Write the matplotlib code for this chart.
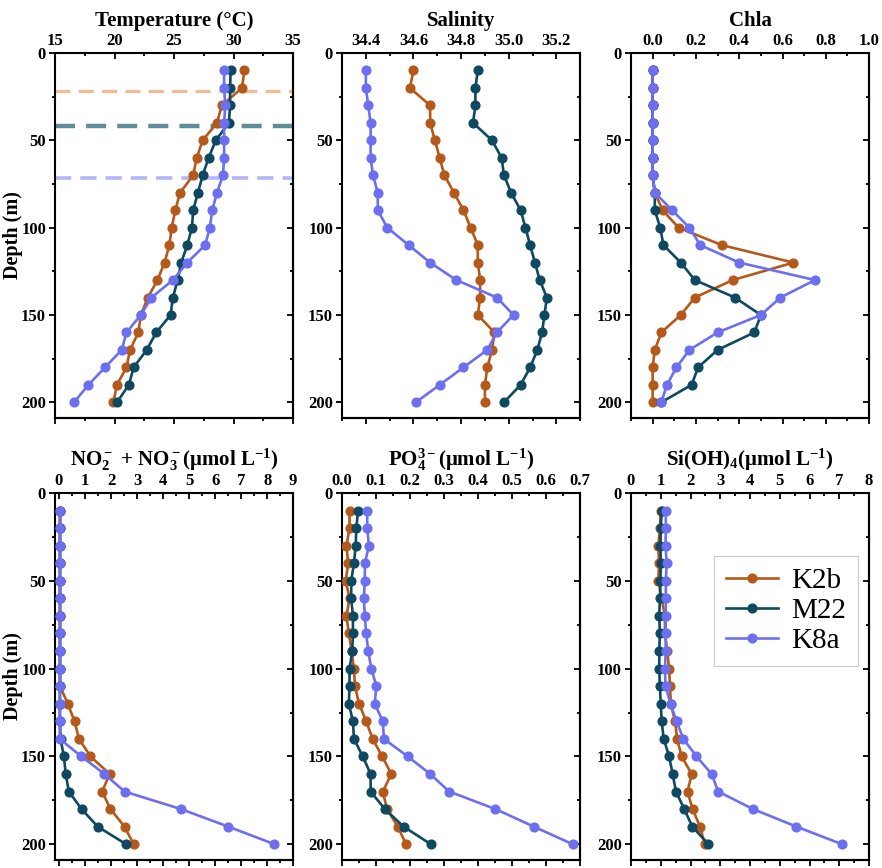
import matplotlib
matplotlib.use('Agg')
import matplotlib.pyplot as plt
from matplotlib.ticker import MultipleLocator

plt.rcParams['font.family'] = ['Liberation Serif', 'DejaVu Serif']
plt.rcParams['font.weight'] = 'bold'
plt.rcParams['mathtext.fontset'] = 'custom'
plt.rcParams['mathtext.rm'] = 'Liberation Serif:bold'
plt.rcParams['mathtext.bf'] = 'Liberation Serif:bold'
plt.rcParams['mathtext.it'] = 'Liberation Serif:bold'
plt.rcParams['mathtext.default'] = 'bf'

# data
stations = ['K2b', 'M22', 'K8a']
colors = ['#B5591B', '#0E4961', '#6B6FF0']
mld_colors = ['#ECBE98', '#5F8C99', '#B4B6F7']
depth = [10, 20, 30, 40, 50, 60, 70, 80, 90, 100,
         110, 120, 130, 140, 150, 160, 170, 180, 190, 200]
mld = [21.5, 42, 71.5]

temp_k2b = [30.9, 30.7, 29.0, 28.6, 27.4, 26.9, 26.6, 25.5, 25.1, 24.8,
            24.6, 24.2, 23.6, 22.8, 22.2, 22.0, 21.3, 21.0, 20.2, 19.9]
temp_m22 = [29.75, 29.7, 29.7, 29.6, 28.5, 27.9, 27.4, 27.0, 26.6, 26.5,
            26.1, 25.6, 25.3, 24.9, 24.7, 23.5, 22.7, 21.6, 21.2, 20.2]
temp_k8a = [29.2, 29.2, 29.3, 29.2, 29.2, 29.2, 29.1, 28.6, 28.2, 28.0,
            27.6, 26.1, 24.9, 23.1, 22.2, 21.0, 20.6, 19.2, 17.8, 16.6]

sal_k2b = [34.60, 34.585, 34.67, 34.67, 34.69, 34.71, 34.73, 34.77, 34.81, 34.84,
           34.87, 34.87, 34.88, 34.88, 34.87, 34.94, 34.93, 34.91, 34.90, 34.90]
sal_m22 = [34.87, 34.86, 34.86, 34.85, 34.93, 34.97, 34.98, 35.01, 35.05, 35.07,
           35.09, 35.11, 35.13, 35.16, 35.15, 35.14, 35.12, 35.09, 35.05, 34.98]
sal_k8a = [34.40, 34.40, 34.41, 34.42, 34.42, 34.42, 34.43, 34.45, 34.45, 34.49,
           34.58, 34.67, 34.78, 34.95, 35.02, 34.95, 34.91, 34.81, 34.71, 34.61]

chla_k2b = [0.0, 0.0, 0.0, 0.0, 0.0, 0.0, 0.0, 0.01, 0.046, 0.12,
            0.32, 0.65, 0.37, 0.195, 0.13, 0.04, 0.01, 0.0, 0.0, 0.0]
chla_m22 = [0.0, 0.0, 0.0, 0.0, 0.0, 0.0, 0.0, 0.01, 0.01, 0.035,
            0.05, 0.13, 0.195, 0.38, 0.50, 0.47, 0.30, 0.21, 0.18, 0.04]
chla_k8a = [0.0, 0.0, 0.0, 0.0, 0.0, 0.0, 0.0, 0.01, 0.09, 0.17,
            0.22, 0.40, 0.75, 0.59, 0.50, 0.30, 0.17, 0.11, 0.066, 0.04]

no3_k2b = [0.04, 0.04, 0.04, 0.04, 0.04, 0.04, 0.04, 0.04, 0.04, 0.04,
           0.04, 0.34, 0.60, 0.77, 1.21, 1.95, 1.66, 1.98, 2.52, 2.87]
no3_m22 = [0.04, 0.04, 0.04, 0.04, 0.04, 0.04, 0.04, 0.04, 0.04, 0.04,
           0.04, 0.04, 0.04, 0.06, 0.19, 0.26, 0.38, 0.87, 1.49, 2.58]
no3_k8a = [0.05, 0.04, 0.04, 0.04, 0.04, 0.04, 0.04, 0.04, 0.04, 0.04,
           0.04, 0.03, 0.03, 0.03, 0.86, 1.75, 2.52, 4.69, 6.51, 8.28]

po4_k2b = [0.022, 0.022, 0.013, 0.018, 0.011, 0.022, 0.013, 0.020, 0.028, 0.035,
           0.038, 0.050, 0.071, 0.090, 0.118, 0.145, 0.120, 0.132, 0.164, 0.188]
po4_m22 = [0.047, 0.042, 0.040, 0.035, 0.027, 0.027, 0.032, 0.032, 0.030, 0.022,
           0.022, 0.020, 0.032, 0.035, 0.061, 0.084, 0.084, 0.126, 0.181, 0.261]
po4_k8a = [0.074, 0.074, 0.079, 0.067, 0.067, 0.064, 0.067, 0.071, 0.077, 0.086,
           0.101, 0.096, 0.120, 0.123, 0.193, 0.259, 0.315, 0.451, 0.564, 0.678]

si_k2b = [1.00, 0.97, 0.92, 0.94, 0.92, 1.03, 1.14, 1.14, 1.22, 1.28,
          1.31, 1.34, 1.48, 1.55, 1.70, 2.04, 1.90, 2.07, 2.32, 2.48]
si_m22 = [1.03, 1.00, 0.99, 1.00, 0.99, 0.97, 0.95, 0.97, 0.95, 0.95,
          0.97, 1.00, 1.03, 1.10, 1.28, 1.40, 1.51, 1.79, 2.06, 2.60]
si_k8a = [1.17, 1.17, 1.16, 1.20, 1.17, 1.17, 1.17, 1.16, 1.17, 1.14,
          1.16, 1.33, 1.53, 1.76, 2.20, 2.71, 2.93, 4.10, 5.56, 7.09]

panels = [
    ('Temperature (°C)', [temp_k2b, temp_m22, temp_k8a], (15, 35), 5, 2.5),
    ('Salinity', [sal_k2b, sal_m22, sal_k8a], (34.3, 35.3), 0.2, 0.1),
    ('Chla', [chla_k2b, chla_m22, chla_k8a], (-0.1, 1.0), 0.2, 0.1),
    (r'NO$_2^-$ + NO$_3^-$(μmol L$^{-1}$)', [no3_k2b, no3_m22, no3_k8a], (-0.15, 9), 1, 0.5),
    (r'PO$_4^{3-}$(μmol L$^{-1}$)', [po4_k2b, po4_m22, po4_k8a], (0, 0.7), 0.1, 0.05),
    (r'Si(OH)$_4$(μmol L$^{-1}$)', [si_k2b, si_m22, si_k8a], (0, 8), 1, 0.5),
]

fig = plt.figure(figsize=(8.82, 8.68), dpi=100)
lefts = [0.0624, 0.3878, 0.7154]
bottoms = [0.5184, 0.0092]
heights = [0.4205, 0.4228]
width = 0.270

axes = []
for i, (title, series, xlim, major, minor) in enumerate(panels):
    row, col = divmod(i, 3)
    ax = fig.add_axes([lefts[col], bottoms[row], width, heights[row]])
    axes.append(ax)

    if i == 0:
        for d, c, lw in zip(mld, mld_colors, [2.4, 3.2, 2.6]):
            ax.axhline(d, color=c, lw=lw, ls=(0, (4.5, 2.5)), zorder=1)

    for vals, c, name in zip(series, colors, stations):
        ax.plot(vals, depth, '-o', color=c, lw=1.9, ms=6.3, label=name, zorder=3)

    ax.set_xlim(*xlim)
    ax.set_ylim(209, 0)
    ax.xaxis.set_major_locator(MultipleLocator(major))
    ax.xaxis.set_minor_locator(MultipleLocator(minor))
    ax.yaxis.set_major_locator(MultipleLocator(50))
    ax.yaxis.set_minor_locator(MultipleLocator(25))
    if title == 'Salinity':
        ax.set_xticks([34.4, 34.6, 34.8, 35.0, 35.2])

    ax.xaxis.tick_top()
    ax.tick_params(axis='x', which='both', direction='in', top=True, bottom=False,
                   labeltop=True, labelbottom=False, labelsize=12, pad=3, width=1.3)
    ax.tick_params(axis='y', which='both', direction='out', left=True, right=False,
                   labelsize=12, pad=2, width=1.3)
    ax.tick_params(which='major', length=4.5)
    ax.tick_params(which='minor', length=2.5)

    # mirrored axes: out at bottom, in at right
    sx = ax.secondary_xaxis('bottom')
    sx.xaxis.set_major_locator(MultipleLocator(major))
    sx.xaxis.set_minor_locator(MultipleLocator(minor))
    sx.tick_params(which='both', direction='out', labelbottom=False, width=1.3)
    sx.tick_params(which='major', length=4.5)
    sx.tick_params(which='minor', length=2.5)
    sy = ax.secondary_yaxis('right')
    sy.yaxis.set_major_locator(MultipleLocator(50))
    sy.yaxis.set_minor_locator(MultipleLocator(25))
    sy.tick_params(which='both', direction='in', labelright=False, width=1.3)
    sy.tick_params(which='major', length=4.5)
    sy.tick_params(which='minor', length=2.5)
    for s in list(ax.spines.values()) + list(sx.spines.values()) + list(sy.spines.values()):
        s.set_linewidth(1.5)

    ax.set_title(title, fontsize=15, fontweight='bold', pad=5)

# y labels, placed in figure pixels so they stay inside the canvas
for yc in [0.7287, 0.2206]:
    fig.text(13 / 882, yc, 'Depth (m)', rotation=90, ha='center', va='center',
             fontsize=14.5, fontweight='bold')

leg = axes[5].legend(loc='upper right', bbox_to_anchor=(0.952, 0.828), borderaxespad=0,
                     prop={'family': 'Liberation Serif', 'weight': 'normal', 'size': 21},
                     handlelength=1.8, labelspacing=0.12, borderpad=0.4,
                     handletextpad=0.45, fancybox=False, framealpha=1)
leg.get_frame().set_edgecolor('#cccccc')
leg.get_frame().set_linewidth(0.8)

fig.savefig('out.png', dpi=100)
